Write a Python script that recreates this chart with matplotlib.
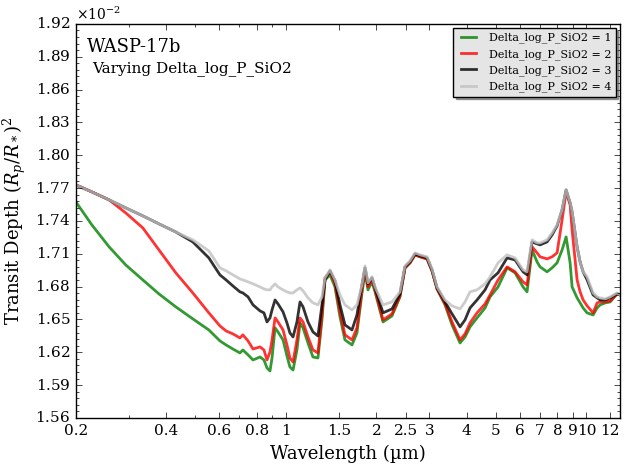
import numpy as np
import matplotlib
matplotlib.use('Agg')
import matplotlib.pyplot as plt
from matplotlib.ticker import FixedLocator, FixedFormatter, LogLocator, NullFormatter, MultipleLocator, AutoMinorLocator, ScalarFormatter

plt.style.use('classic')
plt.rcParams['font.family'] = ['DejaVu Serif']
plt.rcParams['mathtext.fontset'] = 'dejavuserif'

# Wavelengths (um) and transit depths (in units of 1e-2)
wavelength = [0.200, 0.226, 0.258, 0.293, 0.334, 0.378, 0.430, 0.490, 0.554, 0.603,
              0.632, 0.666, 0.703, 0.719, 0.748, 0.777, 0.820, 0.845, 0.865, 0.885,
              0.899, 0.920, 0.941, 0.978, 1.008, 1.031, 1.056, 1.088, 1.114, 1.140,
              1.184, 1.230, 1.278, 1.318, 1.349, 1.402, 1.456, 1.513, 1.572, 1.659,
              1.723, 1.791, 1.833, 1.875, 1.934, 1.979, 2.104, 2.254, 2.396, 2.490,
              2.588, 2.689, 2.794, 2.948, 3.062, 3.182, 3.384, 3.570, 3.796, 3.944,
              4.098, 4.324, 4.598, 4.778, 5.080, 5.444, 5.786, 6.152, 6.343, 6.592,
              6.848, 7.008, 7.396, 7.684, 7.984, 8.296, 8.556, 8.822, 8.958, 9.308,
              9.524, 9.746, 10.05, 10.52, 10.85, 11.10, 11.54, 11.99, 12.64, 12.94]

depth_1 = [1.7574, 1.7364, 1.7163, 1.6998, 1.6861, 1.6733, 1.6615, 1.6505, 1.6404, 1.6304,
           1.6267, 1.6230, 1.6194, 1.6221, 1.6176, 1.6130, 1.6157, 1.6130, 1.6057, 1.6029,
           1.6148, 1.6423, 1.6386, 1.6313, 1.6166, 1.6066, 1.6038, 1.6221, 1.6468, 1.6423,
           1.6285, 1.6157, 1.6148, 1.6496, 1.6861, 1.6907, 1.6797, 1.6523, 1.6313, 1.6267,
           1.6377, 1.6742, 1.6935, 1.6770, 1.6843, 1.6752, 1.6477, 1.6532, 1.6706, 1.6971,
           1.7017, 1.7090, 1.7072, 1.7053, 1.6944, 1.6779, 1.6633, 1.6450, 1.6285, 1.6340,
           1.6432, 1.6514, 1.6605, 1.6706, 1.6797, 1.6971, 1.6926, 1.6797, 1.6752, 1.7135,
           1.7026, 1.6980, 1.6935, 1.6971, 1.7017, 1.7135, 1.7254, 1.7017, 1.6797, 1.6697,
           1.6651, 1.6605, 1.6560, 1.6541, 1.6605, 1.6633, 1.6651, 1.6660, 1.6733, 1.6724]

depth_2 = [1.7729, 1.7665, 1.7592, 1.7473, 1.7336, 1.7135, 1.6926, 1.6742, 1.6560, 1.6441,
           1.6395, 1.6368, 1.6331, 1.6359, 1.6304, 1.6230, 1.6249, 1.6221, 1.6130, 1.6203,
           1.6313, 1.6514, 1.6477, 1.6404, 1.6267, 1.6148, 1.6111, 1.6313, 1.6514, 1.6477,
           1.6340, 1.6221, 1.6194, 1.6541, 1.6880, 1.6935, 1.6825, 1.6569, 1.6359, 1.6313,
           1.6423, 1.6770, 1.6953, 1.6797, 1.6861, 1.6770, 1.6496, 1.6551, 1.6715, 1.6971,
           1.7017, 1.7090, 1.7072, 1.7053, 1.6944, 1.6779, 1.6642, 1.6477, 1.6313, 1.6368,
           1.6468, 1.6560, 1.6642, 1.6724, 1.6861, 1.6980, 1.6935, 1.6843, 1.6816, 1.7163,
           1.7108, 1.7072, 1.7053, 1.7072, 1.7108, 1.7409, 1.7665, 1.7546, 1.7318, 1.6861,
           1.6752, 1.6678, 1.6624, 1.6560, 1.6651, 1.6660, 1.6660, 1.6669, 1.6733, 1.6724]

depth_3 = [1.7729, 1.7665, 1.7592, 1.7519, 1.7446, 1.7373, 1.7299, 1.7208, 1.7062, 1.6907,
           1.6861, 1.6806, 1.6752, 1.6742, 1.6706, 1.6633, 1.6578, 1.6560, 1.6477, 1.6514,
           1.6587, 1.6678, 1.6642, 1.6569, 1.6468, 1.6377, 1.6340, 1.6477, 1.6660, 1.6615,
           1.6477, 1.6386, 1.6349, 1.6633, 1.6861, 1.6944, 1.6852, 1.6633, 1.6450, 1.6404,
           1.6541, 1.6816, 1.6971, 1.6825, 1.6880, 1.6788, 1.6560, 1.6596, 1.6733, 1.6980,
           1.7026, 1.7099, 1.7081, 1.7062, 1.6953, 1.6788, 1.6660, 1.6551, 1.6432, 1.6496,
           1.6605, 1.6678, 1.6770, 1.6861, 1.6926, 1.7062, 1.7044, 1.6935, 1.6907, 1.7208,
           1.7190, 1.7181, 1.7208, 1.7272, 1.7354, 1.7501, 1.7683, 1.7565, 1.7482, 1.7163,
           1.7026, 1.6935, 1.6861, 1.6724, 1.6697, 1.6678, 1.6678, 1.6697, 1.6733, 1.6724]

depth_4 = [1.7729, 1.7665, 1.7592, 1.7519, 1.7446, 1.7373, 1.7299, 1.7227, 1.7126, 1.6971,
           1.6944, 1.6907, 1.6870, 1.6861, 1.6843, 1.6825, 1.6797, 1.6779, 1.6770, 1.6770,
           1.6797, 1.6825, 1.6797, 1.6770, 1.6752, 1.6742, 1.6742, 1.6770, 1.6788, 1.6761,
           1.6697, 1.6651, 1.6633, 1.6706, 1.6880, 1.6953, 1.6861, 1.6724, 1.6633, 1.6587,
           1.6633, 1.6816, 1.6989, 1.6834, 1.6889, 1.6797, 1.6633, 1.6660, 1.6752, 1.6989,
           1.7035, 1.7108, 1.7090, 1.7072, 1.6962, 1.6797, 1.6678, 1.6624, 1.6596, 1.6660,
           1.6752, 1.6770, 1.6825, 1.6889, 1.7017, 1.7090, 1.7062, 1.6953, 1.6935, 1.7227,
           1.7199, 1.7199, 1.7227, 1.7290, 1.7364, 1.7501, 1.7683, 1.7565, 1.7482, 1.7163,
           1.7026, 1.6935, 1.6889, 1.6742, 1.6706, 1.6697, 1.6688, 1.6706, 1.6742, 1.6724]

series = [depth_1, depth_2, depth_3, depth_4]
labels = ['Delta_log_P_SiO2 = 1', 'Delta_log_P_SiO2 = 2',
          'Delta_log_P_SiO2 = 3', 'Delta_log_P_SiO2 = 4']
colors = ['green', 'red', 'black', 'silver']

xticks = [0.2, 0.4, 0.6, 0.8, 1, 1.5, 2, 2.5, 3, 4, 5, 6, 7, 8, 9, 10, 12]
xticklabels = ['0.2', '0.4', '0.6', '0.8', '1', '1.5', '2', '2.5', '3', '4',
               '5', '6', '7', '8', '9', '10', '12']

fig = plt.figure(figsize=(6.27, 4.67), dpi=100, facecolor='white')
ax = fig.add_axes([0.121, 0.105, 0.868, 0.844])

wl = np.array(wavelength)
for d, lab, c in zip(series, labels, colors):
    ax.plot(wl, np.array(d) * 1e-2, color=c, lw=2, alpha=0.8, label=lab)

ax.set_xscale('log')
ax.set_xlim(0.2, 12.94)
ax.set_ylim(0.0156, 0.0192)

ax.xaxis.set_major_locator(FixedLocator(xticks))
ax.xaxis.set_major_formatter(FixedFormatter(xticklabels))
ax.xaxis.set_minor_locator(LogLocator(base=10, subs=np.arange(1, 10) * 0.1, numticks=50))
ax.xaxis.set_minor_formatter(NullFormatter())

ax.yaxis.set_major_locator(MultipleLocator(0.0003))
ax.yaxis.set_minor_locator(AutoMinorLocator(5))
fmt = ScalarFormatter(useMathText=True)
fmt.set_powerlimits((0, 0))
ax.yaxis.set_major_formatter(fmt)
ax.yaxis.get_offset_text().set_fontsize(10)

ax.tick_params(axis='both', which='major', labelsize=11)

ax.set_xlabel('Wavelength (µm)', fontsize=13)
ax.set_ylabel('Transit Depth $(R_p/R_*)^2$', fontsize=13)

ax.text(0.02, 0.965, 'WASP-17b', transform=ax.transAxes, fontsize=13, va='top')
ax.text(0.03, 0.905, 'Varying Delta_log_P_SiO2', transform=ax.transAxes, fontsize=11, va='top')

leg = ax.legend(loc='upper right', fontsize=8, shadow=True, fancybox=False,
                handlelength=2, labelspacing=0.5, borderaxespad=0.4)
leg.get_frame().set_facecolor('#e5e5e5')

fig.savefig('out.png', dpi=100, facecolor='white')
